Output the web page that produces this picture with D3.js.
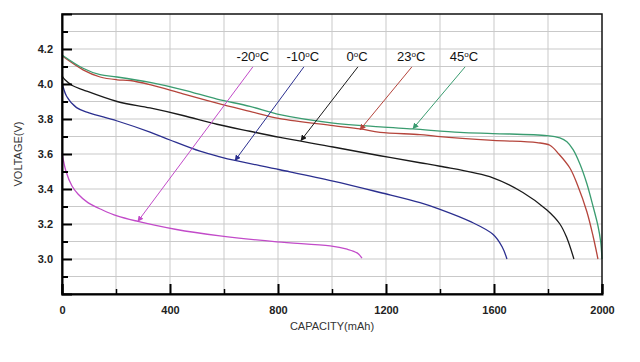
<!DOCTYPE html>
<html>
<head>
<meta charset="utf-8">
<script src="https://cdn.jsdelivr.net/npm/d3@7"></script>
<style>
  body { margin: 0; background: #fff; }
  text { font-family: "Liberation Sans", Arial, sans-serif; }
</style>
</head>
<body>
<div id="chart"></div>
<script>
// discharge curves, capacity (mAh) vs voltage (V)
var cap45 = [0, 78, 141, 204, 326, 448, 574, 696, 807, 1004, 1178, 1300, 1474, 1596, 1796, 1844, 1870, 1893, 1919, 1944, 1967, 1985, 1995, 2000];
var volt45 = [4.166, 4.09, 4.053, 4.04, 4.009, 3.967, 3.914, 3.872, 3.825, 3.777, 3.755, 3.743, 3.724, 3.717, 3.705, 3.692, 3.67, 3.625, 3.54, 3.43, 3.30, 3.19, 3.10, 3.0];

var cap23 = [0, 78, 141, 204, 252, 326, 448, 574, 696, 807, 1004, 1104, 1178, 1326, 1389, 1596, 1759, 1807, 1840, 1881, 1910, 1944, 1967, 1985];
var volt23 = [4.161, 4.081, 4.04, 4.024, 4.02, 3.996, 3.944, 3.891, 3.844, 3.802, 3.762, 3.743, 3.724, 3.711, 3.701, 3.678, 3.665, 3.65, 3.60, 3.52, 3.42, 3.27, 3.13, 3.0];

var cap0 = [0, 11, 40, 78, 204, 326, 448, 574, 696, 807, 1004, 1178, 1326, 1400, 1596, 1707, 1796, 1844, 1870, 1896];
var volt0 = [4.047, 4.024, 3.99, 3.967, 3.90, 3.863, 3.82, 3.77, 3.73, 3.695, 3.64, 3.59, 3.55, 3.53, 3.464, 3.38, 3.28, 3.20, 3.12, 3.0];

var capM10 = [0, 17, 54, 100, 202, 326, 400, 511, 585, 641, 807, 1004, 1178, 1326, 1400, 1511, 1597, 1630, 1648];
var voltM10 = [4.01, 3.93, 3.865, 3.835, 3.79, 3.725, 3.68, 3.616, 3.584, 3.563, 3.51, 3.445, 3.38, 3.322, 3.284, 3.215, 3.14, 3.07, 3.0];

var capM20 = [0, 15, 37, 60, 96, 150, 204, 281, 419, 585, 796, 993, 1056, 1093, 1111];
var voltM20 = [3.607, 3.5, 3.417, 3.37, 3.322, 3.28, 3.246, 3.215, 3.17, 3.132, 3.098, 3.075, 3.056, 3.035, 3.005];

// labels and arrows (label anchor, arrow start, arrow tip) in data units
var seriesNames = ["-20", "-10", "0", "23", "45"];
var seriesColors = ["#c24bc9", "#2b2f8f", "#1a1a1a", "#b5453c", "#3a9c70"];
var labelCap = [707, 892, 1093, 1293, 1489];
var arrowFromCap = [707, 896, 1096, 1296, 1493];
var arrowToCap = [281, 641, 885, 1104, 1300];
var arrowToVolt = [3.215, 3.563, 3.677, 3.739, 3.745];
var labelVolt = 4.157, arrowFromVolt = 4.098;

var xTicks = [0, 400, 800, 1200, 1600, 2000];
var xMinor = [200, 600, 1000, 1400, 1800];
var yTicks = [3.0, 3.2, 3.4, 3.6, 3.8, 4.0, 4.2];
var yMinor = [2.9, 3.1, 3.3, 3.5, 3.7, 3.9, 4.1, 4.3];
var xGrid = [200, 400, 600, 800, 1000, 1200, 1400, 1600, 1800];
var yGrid = [2.9, 3.0, 3.1, 3.2, 3.3, 3.4, 3.5, 3.6, 3.7, 3.8, 3.9, 4.0, 4.1, 4.2, 4.3];

var margin = {top: 14, right: 38, bottom: 68, left: 62},
    width = 640 - margin.left - margin.right,
    height = 362 - margin.top - margin.bottom;

var x = d3.scaleLinear().domain([0, 2000]).range([0, width]);
var y = d3.scaleLinear().domain([2.8, 4.4]).range([height, 0]);

var svg = d3.select("#chart").append("svg")
    .attr("width", 640)
    .attr("height", 362)
    .append("g")
    .attr("transform", "translate(" + margin.left + "," + margin.top + ")");

// grid
svg.selectAll(".vgrid").data(xGrid).enter().append("line")
    .attr("x1", function(d) { return x(d); }).attr("x2", function(d) { return x(d); })
    .attr("y1", 0).attr("y2", height)
    .attr("stroke", "#c9c9c9").attr("stroke-width", 1);
svg.selectAll(".hgrid").data(yGrid).enter().append("line")
    .attr("x1", 0).attr("x2", width)
    .attr("y1", function(d) { return y(d); }).attr("y2", function(d) { return y(d); })
    .attr("stroke", "#c9c9c9").attr("stroke-width", 1);

// curves
var allCaps = [capM20, capM10, cap0, cap23, cap45];
var allVolts = [voltM20, voltM10, volt0, volt23, volt45];
var line = d3.line()
    .x(function(d) { return x(d[0]); })
    .y(function(d) { return y(d[1]); })
    .curve(d3.curveCatmullRom.alpha(0.5));

allCaps.forEach(function(caps, i) {
    var pts = caps.map(function(c, j) { return [c, allVolts[i][j]]; });
    svg.append("path")
        .attr("d", line(pts))
        .attr("fill", "none")
        .attr("stroke", seriesColors[i])
        .attr("stroke-width", 1.3);
});

// arrows
var defs = svg.append("defs");
seriesColors.forEach(function(c, i) {
    defs.append("marker")
        .attr("id", "arr" + i)
        .attr("viewBox", "0 0 10 10")
        .attr("refX", 9).attr("refY", 5)
        .attr("markerWidth", 6).attr("markerHeight", 6)
        .attr("markerUnits", "userSpaceOnUse")
        .attr("orient", "auto")
        .append("path").attr("d", "M0,0L10,5L0,10z").attr("fill", c);
});
seriesNames.forEach(function(n, i) {
    svg.append("line")
        .attr("x1", x(arrowFromCap[i])).attr("y1", y(arrowFromVolt))
        .attr("x2", x(arrowToCap[i])).attr("y2", y(arrowToVolt[i]))
        .attr("stroke", seriesColors[i]).attr("stroke-width", 1)
        .attr("marker-end", "url(#arr" + i + ")");
    var t = svg.append("text")
        .attr("x", x(labelCap[i])).attr("y", y(labelVolt) + 4.5)
        .attr("text-anchor", "middle")
        .attr("font-size", 13).attr("fill", "#111");
    t.append("tspan").text(n);
    t.append("tspan").attr("font-size", 8).attr("dy", -4).text("o");
    t.append("tspan").attr("dy", 4).text("C");
});

// frame
svg.append("rect").attr("width", width).attr("height", height)
    .attr("fill", "none").attr("stroke", "#111").attr("stroke-width", 1.5);

// axes: major ticks with labels, minor ticks without
svg.append("g")
    .attr("transform", "translate(0," + height + ")")
    .call(d3.axisBottom(x).tickValues(xTicks).tickSize(-10).tickPadding(12).tickFormat(d3.format("d")))
    .call(function(g) {
        g.select(".domain").attr("stroke-width", 2);
        g.selectAll(".tick line").attr("stroke-width", 2);
        g.selectAll("text").attr("font-size", 11).attr("font-weight", "bold")
            .attr("font-family", "Liberation Sans, Arial, sans-serif").attr("fill", "#222");
    });
svg.append("g")
    .attr("transform", "translate(0," + height + ")")
    .call(d3.axisBottom(x).tickValues(xMinor).tickSize(-5).tickFormat(""))
    .call(function(g) {
        g.select(".domain").remove();
        g.selectAll(".tick line").attr("stroke-width", 1.5);
    });
svg.append("g")
    .call(d3.axisLeft(y).tickValues(yTicks).tickSize(-10).tickPadding(9).tickFormat(d3.format(".1f")))
    .call(function(g) {
        g.select(".domain").attr("stroke-width", 2);
        g.selectAll(".tick line").attr("stroke-width", 2);
        g.selectAll("text").attr("font-size", 11).attr("font-weight", "bold")
            .attr("font-family", "Liberation Sans, Arial, sans-serif").attr("fill", "#222");
    });
svg.append("g")
    .call(d3.axisLeft(y).tickValues(yMinor).tickSize(-6).tickFormat(""))
    .call(function(g) {
        g.select(".domain").remove();
        g.selectAll(".tick line").attr("stroke-width", 2);
    });

// axis titles
svg.append("text")
    .attr("x", width / 2).attr("y", height + 36)
    .attr("text-anchor", "middle")
    .attr("font-size", 11).attr("fill", "#333")
    .text("CAPACITY(mAh)");
svg.append("text")
    .attr("transform", "translate(" + (-40) + "," + (height / 2) + ") rotate(-90)")
    .attr("text-anchor", "middle")
    .attr("font-size", 11).attr("fill", "#333")
    .text("VOLTAGE(V)");
</script>
</body>
</html>
